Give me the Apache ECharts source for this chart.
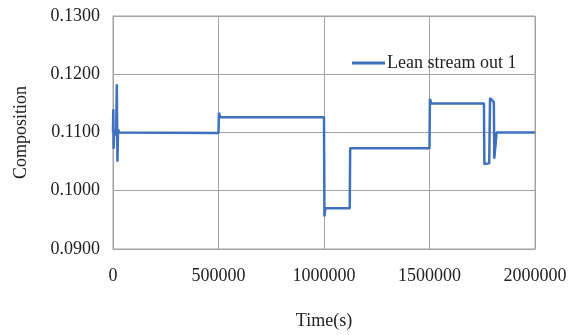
<!DOCTYPE html>
<html>
<head>
<meta charset="utf-8">
<script src="https://cdn.jsdelivr.net/npm/echarts@6/dist/echarts.min.js"></script>
<style>
  html, body { margin: 0; padding: 0; background: #fff; }
  #chart { width: 579px; height: 335px; }
</style>
</head>
<body>
<div id="chart"></div>
<script>
// Simulated lean stream composition over time
const seriesName = 'Lean stream out 1';
const times = [
  0, 1500, 3000, 6000, 10000, 15000, 18000, 21000, 24000, 30000,
  500000, 502000, 508000,
  1000000, 1002000, 1006000,
  1122000, 1124000,
  1500000, 1502000, 1508000,
  1758000, 1760000, 1783000, 1787000, 1791000, 1805000, 1807000, 1816000, 1818000,
  2000000
];
const composition = [
  0.1100, 0.1140, 0.1072, 0.1105, 0.1095, 0.1100, 0.1183, 0.1050, 0.1105, 0.1100,
  0.1099, 0.1134, 0.1126,
  0.1126, 0.0956, 0.0970,
  0.0970, 0.1073,
  0.1073, 0.1158, 0.1150,
  0.1150, 0.1046, 0.1047, 0.1159, 0.1156, 0.1152, 0.1055, 0.1056, 0.1100,
  0.1100
];
const xTicks = [0, 500000, 1000000, 1500000, 2000000];
const yTicks = [0.09, 0.10, 0.11, 0.12, 0.13];

const points = times.map((t, i) => [t, composition[i]]);
const lineColor = '#3f70bd';
const gridColor = '#a3a3a3';
const textColor = '#222';
const font = 'Liberation Serif';

const chart = echarts.init(document.getElementById('chart'), null, { renderer: 'canvas' });
chart.setOption({
  animation: false,
  backgroundColor: '#fff',
  grid: { left: 113, right: 44, top: 16, bottom: 83, show: true, borderColor: gridColor, borderWidth: 1 },
  legend: {
    left: 347, top: 49,
    itemWidth: 33, itemHeight: 3, itemGap: 8,
    textStyle: { fontFamily: font, fontSize: 18, color: textColor, padding: [0, 0, 0, -3] },
    data: [{ name: seriesName, icon: 'rect', itemStyle: { color: lineColor } }]
  },
  xAxis: {
    type: 'value',
    min: xTicks[0], max: xTicks[xTicks.length - 1], interval: 500000,
    name: 'Time(s)', nameLocation: 'middle', nameGap: 63,
    nameTextStyle: { fontFamily: font, fontSize: 18, color: textColor },
    axisLine: { show: true, lineStyle: { color: gridColor } },
    axisTick: { show: false },
    axisLabel: { fontFamily: font, fontSize: 18, color: textColor, margin: 18, formatter: v => String(v) },
    splitLine: { show: true, lineStyle: { color: gridColor, width: 1 } }
  },
  yAxis: {
    type: 'value',
    min: yTicks[0], max: yTicks[yTicks.length - 1], interval: 0.01,
    name: 'Composition', nameLocation: 'middle', nameGap: 83,
    nameTextStyle: { fontFamily: font, fontSize: 18, color: textColor },
    axisLine: { show: true, lineStyle: { color: gridColor } },
    axisTick: { show: false },
    axisLabel: { fontFamily: font, fontSize: 18, color: textColor, margin: 13, formatter: v => v.toFixed(4) },
    splitLine: { show: true, lineStyle: { color: gridColor, width: 1 } }
  },
  series: [{
    name: seriesName,
    type: 'line',
    data: points,
    symbol: 'none',
    lineStyle: { color: lineColor, width: 2.5 },
    itemStyle: { color: lineColor }
  }]
});
</script>
</body>
</html>
